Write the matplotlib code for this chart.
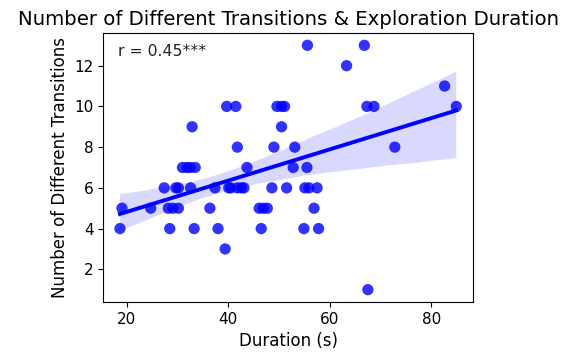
import numpy as np
import matplotlib
matplotlib.use("Agg")
import matplotlib.pyplot as plt
import seaborn as sns

duration = [18.7, 19.1, 24.75, 27.4, 28.2, 28.5, 29.7, 30.2, 29.1, 30.2,
            31.0, 31.9, 32.5, 33.5, 32.9, 32.6, 33.3, 36.4, 37.4, 38.0,
            39.4, 39.7, 41.5, 40.1, 40.5, 41.8, 41.8, 42.6, 43.1, 43.7,
            46.1, 46.9, 47.7, 46.5, 48.6, 49.0, 49.6, 50.5, 51.1, 50.5,
            51.5, 53.1, 52.8, 55.5, 55.1, 55.9, 57.5, 56.9, 54.9, 57.8,
            55.6, 66.8, 63.3, 67.3, 68.7, 72.8, 67.5, 82.6, 84.9]
transitions = [4, 5, 5, 6, 5, 4, 6, 6, 5, 5,
               7, 7, 7, 7, 9, 6, 4, 5, 6, 4,
               3, 10, 10, 6, 6, 8, 6, 6, 6, 7,
               5, 5, 5, 4, 6, 8, 10, 10, 10, 9,
               6, 8, 7, 7, 6, 6, 6, 5, 4, 4,
               13, 13, 12, 10, 10, 8, 1, 11, 10]

fig = plt.figure(figsize=(5.7, 3.56), dpi=100)
ax = fig.add_axes([0.181, 0.152, 0.649, 0.755])
sns.regplot(x=np.array(duration), y=np.array(transitions), ax=ax, color="blue",
            scatter_kws={"s": 66, "alpha": 0.8, "edgecolor": "none"},
            line_kws={"linewidth": 2.8}, seed=0)
ax.set_title("Number of Different Transitions & Exploration Duration", fontsize=14.2)
ax.set_xlabel("Duration (s)", fontsize=12)
ax.set_ylabel("Number of Different Transitions", fontsize=12)
ax.tick_params(labelsize=11)
ax.set_xticks([20, 40, 60, 80])
ax.set_yticks([2, 4, 6, 8, 10, 12])
ax.text(0.04, 0.93, "r = 0.45***", transform=ax.transAxes, fontsize=11.3,
        va="center", color="#222222")
fig.savefig("out.png", dpi=100)
